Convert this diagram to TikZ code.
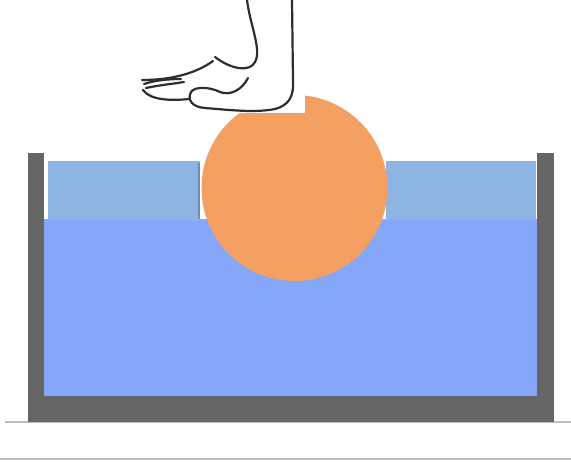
\documentclass[tikz,border=0pt]{standalone}
\begin{document}
\begin{tikzpicture}[x=1pt,y=-1pt,
  wallc/.style={fill=wallgray},
  footline/.style={draw=footink,line width=2.2pt,line cap=round,line join=round}]
\definecolor{wallgray}{HTML}{656565}
\definecolor{water}{HTML}{86A6FA}
\definecolor{layer}{HTML}{8DB4E3}
\definecolor{layeredge}{HTML}{6E8CB4}
\definecolor{ball}{HTML}{F4A062}
\definecolor{footink}{HTML}{2E2E2E}
\definecolor{ground}{HTML}{BDBDBD}
\useasboundingbox[fill=white] (0,0) rectangle (571,463);

% ground and bottom rule
\draw[ground,line width=2pt] (5,422) -- (571,422);
\draw[ground,line width=1.5pt] (0,459) -- (571,459);

% water in the tank
\fill[water] (44,219) rectangle (538,397);

% floating layer on both sides of the ball
\fill[layer] (48,161) rectangle (200,220);
\fill[layer] (386,161) rectangle (536,220);
\draw[layeredge,line width=1.2pt] (199,163) -- (199,219);

% tank walls and floor
\fill[wallc] (28,153) rectangle (44,422);
\fill[wallc] (537,153) rectangle (554,422);
\fill[wallc] (28,396) rectangle (554,422);

% ball with the corner cut where the heel rests
\begin{scope}
  \clip (0,113) rectangle (571,463) (305,0) rectangle (571,113);
  \fill[ball] (294.5,188) circle[radius=93];
\end{scope}

% foot outline
\draw[footline] (247,0) .. controls (250,25) and (262,50) .. (255,62)
  .. controls (250,72) and (232,70) .. (215,57);
\draw[footline] (213,61) .. controls (195,74) and (170,80) .. (142,80);
\draw[footline] (144,84) .. controls (156,80) and (170,79) .. (181,79);
\draw[footline] (146,88) .. controls (160,85) and (172,84) .. (184,82);
\draw[footline] (143,90) .. controls (150,100) and (170,101) .. (189,99);
\draw[footline] (248,78) .. controls (242,90) and (230,96) .. (220,92)
  .. controls (210,87) and (195,86) .. (191,92)
  .. controls (187,100) and (192,107) .. (205,108)
  .. controls (230,110) and (255,113) .. (275,109)
  .. controls (290,105) and (294,95) .. (293,80) -- (292,0);
\end{tikzpicture}
\end{document}
